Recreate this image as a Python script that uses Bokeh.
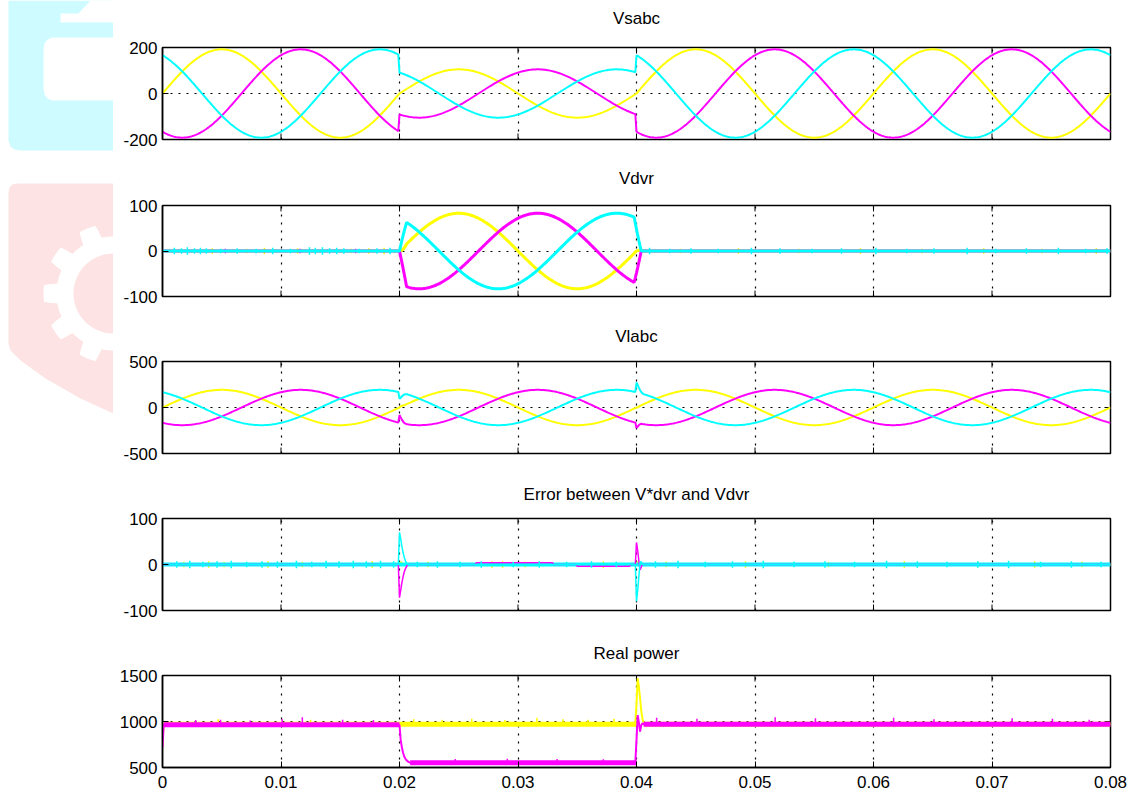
import numpy as np
from bokeh.plotting import figure
from bokeh.models import FixedTicker, Range1d, LinearAxis
from bokeh.layouts import column, row
from bokeh.embed import file_html
from bokeh.resources import INLINE

# ---------------- values ----------------
TITLES = ["Vsabc", "Vdvr", "Vlabc", "Error between V*dvr and Vdvr", "Real power"]
X_TICKS = [0, 0.01, 0.02, 0.03, 0.04, 0.05, 0.06, 0.07, 0.08]
X_TICK_LABELS = ["0", "0.01", "0.02", "0.03", "0.04", "0.05", "0.06", "0.07", "0.08"]
Y_RANGES = [(-200, 200), (-100, 100), (-500, 500), (-100, 100), (500, 1500)]
Y_TICKS = [[-200, 0, 200], [-100, 0, 100], [-500, 0, 500], [-100, 0, 100], [500, 1000, 1500]]
Y_TICK_LABELS = [["-200", "0", "200"], ["-100", "0", "100"], ["-500", "0", "500"],
                 ["-100", "0", "100"], ["500", "1000", "1500"]]

PHASE_DEG = [0, -120, 120]                       # yellow, magenta, cyan
PHASE_COLORS = ["#ffff00", "#ff00ff", "#00ffff"]

T_END = 0.08
DT = 0.0001
FREQ_HZ = 50
SAG_START = 0.02
SAG_END = 0.04

VS_AMP_NORMAL = 192
VS_AMP_SAG = 105
VDVR_AMP = 83
VDVR_ENV_T = [0.0200, 0.0206, 0.0398, 0.0404]
VDVR_ENV_V = [0, 1, 1, 0]
VL_AMP = 192

# transient offsets (one value per sample, from the event on)
VL_TRANS_START = [[0, 6, 8, 4, 0],
                  [84, 62, 40, 22, 10, 4, 0],
                  [-70, -58, -40, -24, -12, -5, 0]]
VL_TRANS_END = [[0, -6, -3, 0],
                [-56, -38, -20, -8, 0],
                [105, 82, 56, 32, 15, 5, 0]]

ERR_TRANS_START = [[0, 4, 2, 0],
                   [-72, -56, -40, -27, -16, -9, -4, 0],
                   [70, 56, 40, 26, 15, 8, 3, 0]]
ERR_TRANS_END = [[0, 5, 2, 0],
                 [48, 30, 8, -12, -6, 0],
                 [-80, -56, -26, 5, 6, 0]]
ERR_MAG_STEPS = [(0.0265, 0.0330, 4), (0.0350, 0.0395, -4)]

P_YEL_LEVEL = 970
P_MAG_LEVELS = [965, 552, 970]           # before, during, after the sag
P_FIRST = [750, 720]                     # yellow, magenta at t = 0
P_MAG_DROP = [960, 800, 720, 660, 620, 595, 578, 566, 558]
P_MAG_RISE = [800, 1070, 990, 890, 960, 980]
P_YEL_SPIKE = [1200, 1470, 1380, 1250, 1120, 1030, 990]
P_MAG_BANDS = [(0.0001, 0.0200, 965), (0.0209, 0.0400, 552), (0.0406, 0.0800, 970)]
P_YEL_BANDS = [(0.0001, 0.0400, 970), (0.0407, 0.0800, 970)]

# noise spikes (time, half height)
VDVR_C_T = [0.0010, 0.0016, 0.0021, 0.0027, 0.0032, 0.0037, 0.0049, 0.0063, 0.0079, 0.0093,
            0.0108, 0.0124, 0.0129, 0.0135, 0.0141, 0.0147, 0.0153, 0.0166, 0.0181, 0.0192,
            0.0411, 0.0428, 0.0446, 0.0469, 0.0497, 0.0521, 0.0548, 0.0573, 0.0602, 0.0628,
            0.0651, 0.0679, 0.0703, 0.0729, 0.0756, 0.0779, 0.0797]
VDVR_C_H = [7, 6, 8, 6, 7, 6, 5, 6, 5, 7,
            5, 8, 7, 8, 6, 7, 6, 5, 6, 7,
            7, 5, 6, 5, 7, 6, 5, 6, 7, 5,
            6, 7, 5, 6, 7, 5, 6]
VDVR_Y_T = [0.0042, 0.0071, 0.0086, 0.0114, 0.0159, 0.0174, 0.0187, 0.0437, 0.0486, 0.0537,
            0.0589, 0.0641, 0.0693, 0.0742, 0.0788]
VDVR_Y_H = [6, 5, 7, 6, 5, 6, 7, 5, 6, 5, 6, 5, 6, 5, 6]
VDVR_M_T = [0.0053, 0.0116, 0.0163]
VDVR_M_H = [5, 5, 5]

ERR_C_T = [0.0012, 0.0023, 0.0034, 0.0046, 0.0058, 0.0071, 0.0084, 0.0097, 0.0113, 0.0126,
           0.0138, 0.0149, 0.0161, 0.0172, 0.0184, 0.0195, 0.0215, 0.0232, 0.0251, 0.0269,
           0.0296, 0.0318, 0.0341, 0.0362, 0.0383, 0.0416, 0.0435, 0.0458, 0.0481, 0.0507,
           0.0533, 0.0559, 0.0584, 0.0611, 0.0637, 0.0662, 0.0688, 0.0714, 0.0741, 0.0767,
           0.0792]
ERR_C_H = [7, 8, 6, 7, 8, 6, 7, 7, 8, 6,
           8, 7, 8, 7, 8, 7, 6, 7, 6, 7,
           6, 7, 6, 7, 6, 7, 8, 6, 7, 8,
           6, 7, 6, 8, 7, 6, 7, 8, 6, 7,
           6]
ERR_Y_T = [0.0018, 0.0039, 0.0052, 0.0089, 0.0118, 0.0177, 0.0224, 0.0278, 0.0287, 0.0306,
           0.0372, 0.0425, 0.0492, 0.0562, 0.0626, 0.0688, 0.0736, 0.0776]
ERR_Y_H = [6, 7, 6, 7, 6, 7, 6, 7, 7, 6, 7, 6, 7, 6, 7, 6, 7, 6]

P_M_T = [0.0028, 0.0049, 0.0074, 0.0101, 0.0118, 0.0152, 0.0178, 0.0247, 0.0291, 0.0333,
         0.0372, 0.0417, 0.0451, 0.0517, 0.0551, 0.0617, 0.0651, 0.0717, 0.0751, 0.0782]
P_M_H = [25, 30, 20, 35, 55, 30, 25, 15, 18, 15, 12, 45, 35, 50, 40, 45, 30, 40, 35, 25]
P_Y_T = [0.0047, 0.0125, 0.0212, 0.0236, 0.0261, 0.0289, 0.0316, 0.0338, 0.0359, 0.0381]
P_Y_H = [30, 25, 30, 25, 35, 20, 45, 30, 25, 35]

# ---------------- layout / style ----------------
FONT = "Liberation Sans"
FONT_SIZE = "17px"
WM_W = 113                      # width of the watermark strip on the left
PANEL_W = 1015
FRAME_W, FRAME_H = 948, 92
BORDER_L, BORDER_R = 49, 18
BORDER_T = [47, 39, 39, 39, 39]
BORDER_B = [26, 26, 26, 26, 30]
TITLE_STANDOFF = [20, 18, 16, 15, 13]
FIG_HEIGHTS = [BORDER_T[i] + FRAME_H + BORDER_B[i] for i in range(5)]
TOTAL_H = sum(FIG_HEIGHTS)
TICK_PX = 6
WM_CYAN = "#cdfbff"
WM_PINK = "#fde3e3"

# ---------------- signals ----------------
t = np.round(np.arange(0.0, T_END + DT / 2, DT), 6)
i_start = int(round(SAG_START / DT))
i_end = int(round(SAG_END / DT))
w = 2 * np.pi * FREQ_HZ
in_sag = (t >= SAG_START) & (t < SAG_END)


def add_offsets(y, i0, offs):
    y = y.copy()
    y[i0:i0 + len(offs)] += np.asarray(offs, dtype=float)
    return y


def phase_sin(ph):
    return np.sin(w * t + np.deg2rad(ph))


vs = [np.where(in_sag, VS_AMP_SAG, VS_AMP_NORMAL) * phase_sin(ph) for ph in PHASE_DEG]
env = np.interp(t, VDVR_ENV_T, VDVR_ENV_V)
vdvr = [VDVR_AMP * env * phase_sin(ph) for ph in PHASE_DEG]
vl = [add_offsets(add_offsets(VL_AMP * phase_sin(ph), i_start, VL_TRANS_START[k]), i_end, VL_TRANS_END[k])
      for k, ph in enumerate(PHASE_DEG)]
err = []
for k in range(3):
    e = add_offsets(add_offsets(np.zeros_like(t), i_start, ERR_TRANS_START[k]), i_end, ERR_TRANS_END[k])
    if k == 1:
        for a, b, v in ERR_MAG_STEPS:
            e[(t >= a) & (t < b)] += v
    err.append(e)

p_y = np.full_like(t, float(P_YEL_LEVEL))
p_y[0] = P_FIRST[0]
p_y[i_end:i_end + len(P_YEL_SPIKE)] = P_YEL_SPIKE
p_m = np.select([t < SAG_START, t < SAG_END], [P_MAG_LEVELS[0], P_MAG_LEVELS[1]], P_MAG_LEVELS[2]).astype(float)
p_m[0] = P_FIRST[1]
p_m[i_start:i_start + len(P_MAG_DROP)] = P_MAG_DROP
p_m[i_end:i_end + len(P_MAG_RISE)] = P_MAG_RISE


# ---------------- watermark (decorative, page pixels) ----------------
def gear(cx, cy, r_ring, r_tooth, centers, half_base, half_top):
    ang = np.arange(90, 270.01, 0.5)
    r = np.full_like(ang, float(r_ring))
    for c in centers:
        d = np.abs(ang - c)
        r = np.maximum(r, np.where(d <= half_top, r_tooth,
                                   np.where(d < half_base,
                                            r_tooth - (d - half_top) / (half_base - half_top) * (r_tooth - r_ring),
                                            r_ring)))
    xs = list(cx + r * np.cos(np.deg2rad(ang)))
    ys = list(cy - r * np.sin(np.deg2rad(ang)))
    return xs + [cx], ys + [cy]


def disc(cx, cy, rad):
    ang = np.arange(90, 270.01, 2)
    return list(cx + rad * np.cos(np.deg2rad(ang))) + [cx], list(cy - rad * np.sin(np.deg2rad(ang))) + [cy]


def pts(lst):
    return [float(p[0]) for p in lst], [float(p[1]) for p in lst]


WATERMARK = [
    pts([(8, 0), (113, 0), (113, 150), (20, 150), (14, 149), (10, 146), (8, 140)]) + (WM_CYAN,),
    pts([(90, 0), (113, 0), (113, 22), (60, 22), (60, 13), (78, 13)]) + ("white",),
    pts([(113, 37), (113, 100), (52, 100), (47, 98), (44, 94), (43, 88), (43, 49),
         (44, 43), (47, 39), (52, 37)]) + ("white",),
    pts([(8, 192), (9, 187), (12, 184), (17, 183), (113, 183), (113, 413), (80, 398),
         (45, 378), (20, 360), (10, 350), (8, 343)]) + (WM_PINK,),
    gear(113, 293, 57, 70, [78, 112, 146, 180, 214, 248, 282], 10, 7) + ("white",),
    disc(113, 293, 40) + (WM_PINK,),
]

wm = figure(width=WM_W, height=TOTAL_H, x_range=Range1d(0, WM_W), y_range=Range1d(TOTAL_H, 0),
            output_backend="svg", toolbar_location=None, tools="",
            min_border=0, outline_line_color=None, background_fill_color="white", border_fill_color="white")
wm.axis.visible = False
wm.grid.visible = False
wm.patches([s[0] for s in WATERMARK], [s[1] for s in WATERMARK],
           fill_color=[s[2] for s in WATERMARK], line_color=None)


# ---------------- panels ----------------
def make_fig(i):
    y0, y1 = Y_RANGES[i]
    p = figure(width=PANEL_W, height=FIG_HEIGHTS[i], x_range=Range1d(0, T_END), y_range=Range1d(y0, y1),
               output_backend="svg", toolbar_location=None, tools="",
               min_border_left=BORDER_L, min_border_right=BORDER_R, min_border_top=BORDER_T[i],
               min_border_bottom=BORDER_B[i], background_fill_color="white", border_fill_color="white",
               outline_line_color="black", outline_line_width=1.5)
    xa = p.below[0]
    ya = p.left[0]
    xt = FixedTicker(ticks=X_TICKS)
    yt = FixedTicker(ticks=Y_TICKS[i])
    for ax in (xa, ya):
        ax.major_tick_in = TICK_PX
        ax.major_tick_out = 0
        ax.minor_tick_line_color = None
        ax.major_tick_line_color = "black"
        ax.axis_line_color = "black"
        ax.axis_line_width = 1.5
        ax.major_label_text_font = FONT
        ax.major_label_text_font_size = FONT_SIZE
        ax.major_label_text_color = "black"
        ax.major_label_standoff = 5
    xa.ticker = xt
    ya.ticker = yt
    xa.major_label_overrides = dict(zip(X_TICKS, X_TICK_LABELS))
    ya.major_label_overrides = dict(zip(Y_TICKS[i], Y_TICK_LABELS[i]))
    xa.major_label_standoff = 8
    if i < 4:
        xa.visible = False
    for g in (p.xgrid[0], p.ygrid[0]):
        g.grid_line_color = "black"
        g.grid_line_dash = "2 6"
        g.grid_line_width = 1.2
    p.xgrid[0].ticker = xt
    p.ygrid[0].ticker = yt
    # inward ticks on the other sides of the box
    ty = TICK_PX / FRAME_H * (y1 - y0)
    tx = TICK_PX / FRAME_W * T_END
    p.segment(X_TICKS, [y1] * len(X_TICKS), X_TICKS, [y1 - ty] * len(X_TICKS), line_color="black", line_width=1)
    if i < 4:
        p.segment(X_TICKS, [y0] * len(X_TICKS), X_TICKS, [y0 + ty] * len(X_TICKS), line_color="black", line_width=1)
    yl = Y_TICKS[i]
    p.segment([T_END] * len(yl), yl, [T_END - tx] * len(yl), yl, line_color="black", line_width=1)
    # panel title, centred over the frame (label of an empty top axis)
    top = LinearAxis(ticker=FixedTicker(ticks=[]), axis_label=TITLES[i],
                     axis_label_text_font=FONT, axis_label_text_font_size=FONT_SIZE,
                     axis_label_text_font_style="normal", axis_label_text_color="black",
                     axis_label_standoff=TITLE_STANDOFF[i], axis_line_color=None,
                     major_tick_line_color=None, minor_tick_line_color=None,
                     major_tick_out=0, major_tick_in=0, minor_tick_out=0, minor_tick_in=0,
                     major_label_standoff=0)
    p.add_layout(top, "above")
    return p


figs = [make_fig(i) for i in range(5)]

# panel 1: Vsabc
for y, c in zip(vs, PHASE_COLORS):
    figs[0].line(t, y, line_color=c, line_width=2)

# panel 2: Vdvr
for k, (y, c) in enumerate(zip(vdvr, PHASE_COLORS)):
    figs[1].line(t, y, line_color=c, line_width=3)
    if k == 0:
        figs[1].segment(VDVR_Y_T, [-h for h in VDVR_Y_H], VDVR_Y_T, VDVR_Y_H, line_color=c, line_width=1.5)
    if k == 1:
        figs[1].segment(VDVR_M_T, [-h for h in VDVR_M_H], VDVR_M_T, VDVR_M_H, line_color=c, line_width=1.5)
figs[1].segment(VDVR_C_T, [-h for h in VDVR_C_H], VDVR_C_T, VDVR_C_H, line_color=PHASE_COLORS[2], line_width=1.5)

# panel 3: Vlabc
for y, c in zip(vl, PHASE_COLORS):
    figs[2].line(t, y, line_color=c, line_width=2)

# panel 4: error
figs[3].segment(ERR_Y_T, [-h for h in ERR_Y_H], ERR_Y_T, ERR_Y_H, line_color=PHASE_COLORS[0], line_width=1.5)
figs[3].line(t, err[0], line_color=PHASE_COLORS[0], line_width=3)
figs[3].segment([0.0], [0.0], [T_END], [0.0], line_color=PHASE_COLORS[2], line_width=4)
figs[3].line(t, err[1], line_color=PHASE_COLORS[1], line_width=1.5)
figs[3].line(t, err[2], line_color=PHASE_COLORS[2], line_width=1.5)
figs[3].segment(ERR_C_T, [-h for h in ERR_C_H], ERR_C_T, ERR_C_H, line_color=PHASE_COLORS[2], line_width=1.5)

# panel 5: real power
yb = P_YEL_BANDS
figs[4].segment([b[0] for b in yb], [b[2] for b in yb], [b[1] for b in yb], [b[2] for b in yb],
                line_color=PHASE_COLORS[0], line_width=5)
figs[4].segment(P_Y_T, [P_YEL_LEVEL] * len(P_Y_T), P_Y_T, [P_YEL_LEVEL + 25 + h for h in P_Y_H],
                line_color=PHASE_COLORS[0], line_width=1.5)
figs[4].line(t, p_y, line_color=PHASE_COLORS[0], line_width=2)
mb = P_MAG_BANDS
figs[4].segment([b[0] for b in mb], [b[2] for b in mb], [b[1] for b in mb], [b[2] for b in mb],
                line_color=PHASE_COLORS[1], line_width=5)
mag_lvl = [P_MAG_LEVELS[0] if x < SAG_START else (P_MAG_LEVELS[1] if x < SAG_END else P_MAG_LEVELS[2])
           for x in P_M_T]
figs[4].segment(P_M_T, mag_lvl, P_M_T, [l + 25 + h for l, h in zip(mag_lvl, P_M_H)],
                line_color=PHASE_COLORS[1], line_width=1.5)
figs[4].line(t, p_m, line_color=PHASE_COLORS[1], line_width=2)

layout = row(wm, column(*figs, spacing=0), spacing=0)
open("out.html", "w").write(file_html(layout, INLINE))
